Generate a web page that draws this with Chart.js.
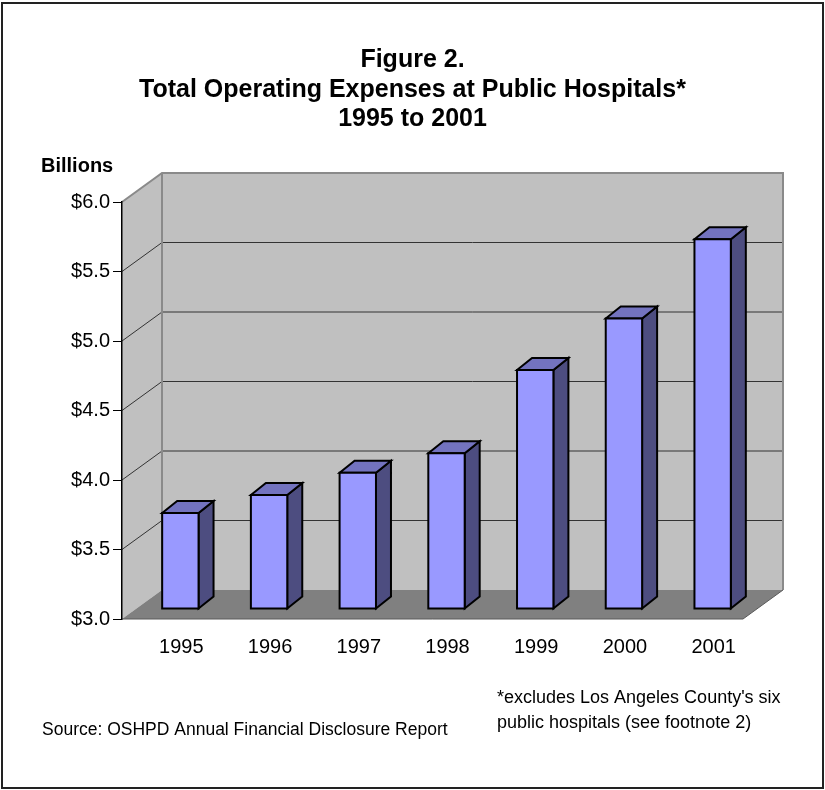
<!DOCTYPE html>
<html>
<head>
<meta charset="utf-8">
<title>Total Operating Expenses at Public Hospitals</title>
<script src="https://cdn.jsdelivr.net/npm/chart.js@4.4.0/dist/chart.umd.min.js"></script>
<style>
  body { margin: 0; background: #fff; }
  canvas { display: block; }
</style>
</head>
<body>
<canvas id="expensesChart" width="825" height="790"></canvas>
<script>
const years = ['1995', '1996', '1997', '1998', '1999', '2000', '2001']
const expenses = [3.69, 3.82, 3.98, 4.12, 4.72, 5.09, 5.66]   // billions of dollars
const yMin = 3.0, yMax = 6.0, yStep = 0.5

const titleLines = ['Figure 2.', 'Total Operating Expenses at Public Hospitals*', '1995 to 2001']
const unitLabel = 'Billions'
const footnoteLines = ["*excludes Los Angeles County's six", 'public hospitals (see footnote 2)']
const sourceText = 'Source: OSHPD Annual Financial Disclosure Report'

const FONT = "'Liberation Sans', Arial, sans-serif"

// fake 3d: depth of the walls/floor and of the bars as screen offsets
const WALL = { dx: 40, dy: -29 }
const BAR_FRONT = { dx: 14, dy: -10 }
const BAR_BACK = { dx: 29, dy: -22 }

const colors = {
    wall: '#c0c0c0',
    wallEdge: '#8a8a8a',
    floor: '#808080',
    grid: '#333333',
    barFront: '#9999ff',
    barTop: '#7373bf',
    barSide: '#4d4d80'
}

function poly(ctx, pts, fill, stroke, lw) {
    ctx.beginPath()
    ctx.moveTo(pts[0][0], pts[0][1])
    for (let i = 1; i < pts.length; i++) ctx.lineTo(pts[i][0], pts[i][1])
    ctx.closePath()
    if (fill) { ctx.fillStyle = fill; ctx.fill() }
    if (stroke) { ctx.strokeStyle = stroke; ctx.lineWidth = lw || 1; ctx.stroke() }
}

function line(ctx, pts, color, lw) {
    ctx.beginPath()
    ctx.moveTo(pts[0][0], pts[0][1])
    for (let i = 1; i < pts.length; i++) ctx.lineTo(pts[i][0], pts[i][1])
    ctx.strokeStyle = color
    ctx.lineWidth = lw
    ctx.stroke()
}

function drawBar(ctx, el) {
    const half = el.width / 2
    const x0 = el.x - half + BAR_FRONT.dx, x1 = el.x + half + BAR_FRONT.dx
    const yt = el.y + BAR_FRONT.dy, yb = el.base + BAR_FRONT.dy
    const ddx = BAR_BACK.dx - BAR_FRONT.dx, ddy = BAR_BACK.dy - BAR_FRONT.dy

    poly(ctx, [[x1, yt], [x1 + ddx, yt + ddy], [x1 + ddx, yb + ddy], [x1, yb]], colors.barSide, '#000', 2)
    poly(ctx, [[x0, yt], [x0 + ddx, yt + ddy], [x1 + ddx, yt + ddy], [x1, yt]], colors.barTop, '#000', 2)
    poly(ctx, [[x0, yt], [x1, yt], [x1, yb], [x0, yb]], colors.barFront, '#000', 2)
}

const box3d = {
    id: 'box3d',
    beforeDraw(chart) {
        const ctx = chart.ctx
        const { left, right, top, bottom } = chart.chartArea
        const yScale = chart.scales.y
        const dx = WALL.dx, dy = WALL.dy

        ctx.save()
        ctx.fillStyle = '#fff'
        ctx.fillRect(0, 0, chart.width, chart.height)

        // frame around the whole figure
        ctx.strokeStyle = '#222'
        ctx.lineWidth = 2
        ctx.strokeRect(2, 3, chart.width - 4, chart.height - 5)

        // side wall + back wall
        poly(ctx, [[left, top], [left + dx, top + dy], [left + dx, bottom + dy], [left, bottom]], colors.wall)
        poly(ctx, [[left + dx, top + dy], [right + dx, top + dy], [right + dx, bottom + dy], [left + dx, bottom + dy]], colors.wall)

        // gridlines run across the side wall and then the back wall
        yScale.ticks.forEach(t => {
            if (t.value <= yMin || t.value >= yMax) return
            const py = yScale.getPixelForValue(t.value)
            line(ctx, [[left, py], [left + dx, py + dy], [right + dx, py + dy]], colors.grid, 1)
        })

        // wall edges
        line(ctx, [[left, top], [left + dx, top + dy], [right + dx, top + dy], [right + dx, bottom + dy]], colors.wallEdge, 2)
        line(ctx, [[left + dx, top + dy], [left + dx, bottom + dy]], colors.wallEdge, 2)

        // floor
        poly(ctx, [[left, bottom], [right, bottom], [right + dx, bottom + dy], [left + dx, bottom + dy]], colors.floor)
        line(ctx, [[left, bottom], [right, bottom], [right + dx, bottom + dy]], '#5a5a5a', 1)
        ctx.restore()
    },
    beforeDatasetsDraw(chart) {
        const ctx = chart.ctx
        ctx.save()
        ctx.lineJoin = 'miter'
        chart.getDatasetMeta(0).data.forEach(el => drawBar(ctx, el))
        ctx.restore()
        return false
    },
    afterDraw(chart) {
        const ctx = chart.ctx
        const cx = chart.width / 2
        ctx.save()
        ctx.fillStyle = '#000'
        ctx.textBaseline = 'alphabetic'

        ctx.font = 'bold 25px ' + FONT
        ctx.textAlign = 'center'
        titleLines.forEach((t, i) => ctx.fillText(t, cx, 67 + i * 29.5))

        ctx.textAlign = 'left'
        ctx.font = 'bold 20px ' + FONT
        ctx.fillText(unitLabel, 41, 172)

        ctx.font = '18px ' + FONT
        footnoteLines.forEach((t, i) => ctx.fillText(t, 497, 703 + i * 25))

        ctx.font = '17.5px ' + FONT
        ctx.fillText(sourceText, 42, 735)
        ctx.restore()
    }
}

new Chart(document.getElementById('expensesChart'), {
    type: 'bar',
    data: {
        labels: years,
        datasets: [{
            data: expenses,
            base: yMin,
            backgroundColor: colors.barFront,
            barPercentage: 0.41,
            categoryPercentage: 1.0
        }]
    },
    options: {
        responsive: false,
        animation: false,
        layout: { padding: { top: 202, left: 52, right: 82, bottom: 131 } },
        plugins: {
            legend: { display: false },
            tooltip: { enabled: false },
            title: { display: false }
        },
        scales: {
            x: {
                offset: true,
                grid: { display: false, drawTicks: false },
                border: { display: false },
                ticks: {
                    color: '#000',
                    font: { family: FONT, size: 20 },
                    padding: 16,
                    labelOffset: 15,
                    maxRotation: 0
                },
                afterFit(scale) { scale.height = 40 }
            },
            y: {
                min: yMin,
                max: yMax,
                grid: { drawOnChartArea: false, drawTicks: true, tickLength: 9, color: '#000' },
                border: { display: true, color: '#000', width: 1.5 },
                ticks: {
                    stepSize: yStep,
                    color: '#000',
                    padding: 3,
                    font: { family: FONT, size: 20 },
                    callback: v => '$' + v.toFixed(1)
                },
                afterFit(scale) { scale.width = 70 }
            }
        }
    },
    plugins: [box3d]
})
</script>
</body>
</html>
